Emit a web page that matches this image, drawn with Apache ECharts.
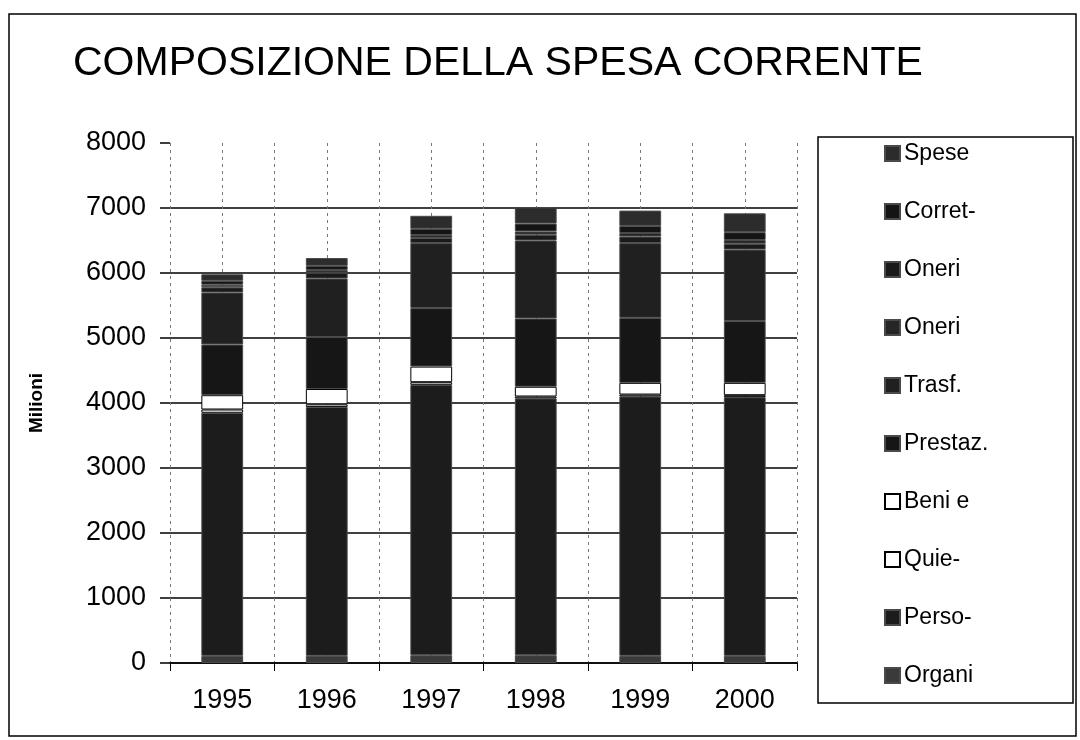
<!DOCTYPE html>
<html>
<head>
<meta charset="utf-8">
<script src="https://cdn.jsdelivr.net/npm/echarts@6/dist/echarts.min.js"></script>
<style>
html,body{margin:0;padding:0;background:#fff;}
#main{width:1080px;height:740px;}
</style>
</head>
<body>
<div id="main"></div>
<script>
// anni
var anni = ['1995', '1996', '1997', '1998', '1999', '2000'];
var yTicks = [0, 1000, 2000, 3000, 4000, 5000, 6000, 7000, 8000];

// valori in milioni, dal basso verso l'alto della pila
var organi  = [110, 110, 120, 120, 110, 110];
var perso   = [3740, 3830, 4160, 3950, 3990, 3980];
var quie    = [50, 40, 40, 30, 30, 30];
var beni    = [220, 235, 240, 150, 180, 190];
var prestaz = [780, 800, 900, 1050, 1000, 950];
var trasf   = [800, 900, 1000, 1200, 1150, 1100];
var oneri1  = [80, 90, 80, 90, 100, 90];
var oneri2  = [40, 40, 45, 50, 55, 58];
var corret  = [60, 65, 95, 120, 110, 120];
var spese   = [100, 120, 200, 250, 235, 290];

var nomiLegenda = ['Spese', 'Corret-', 'Oneri1', 'Oneri2', 'Trasf.', 'Prestaz.', 'Beni e', 'Quie-', 'Perso-', 'Organi'];

function serie(nome, valori, colore, bordo) {
    return {
        name: nome,
        type: 'bar',
        stack: 'spesa',
        barWidth: '40%',
        data: valori,
        itemStyle: {color: colore, borderColor: bordo || '#4a4a4a', borderWidth: 1},
        emphasis: {disabled: true}
    };
}

var myChart = echarts.init(document.getElementById('main'));

// solo la griglia fino a 7000, niente linea a 8000
var coloriGriglia = yTicks.map(function (v) { return v < 8000 ? '#000' : 'rgba(0,0,0,0)'; });

option = {
    backgroundColor: '#fff',
    animation: false,
    textStyle: {fontFamily: 'Liberation Sans, Arial, sans-serif', color: '#000'},
    title: {
        text: 'COMPOSIZIONE DELLA SPESA CORRENTE',
        left: 68,
        top: 38,
        textStyle: {fontSize: 41, fontWeight: 'normal', color: '#000', fontFamily: 'Liberation Sans, Arial, sans-serif'}
    },
    graphic: [
        {type: 'rect', shape: {x: 9, y: 14, width: 1067, height: 722}, style: {fill: 'none', stroke: '#000', lineWidth: 1.5}, silent: true, z: 0},
        {type: 'rect', shape: {x: 818, y: 137, width: 255, height: 566}, style: {fill: '#fff', stroke: '#000', lineWidth: 1.5}, silent: true, z: 0}
    ],
    legend: {
        orient: 'vertical',
        left: 879,
        top: 137,
        icon: 'rect',
        itemWidth: 15,
        itemHeight: 15,
        itemGap: 35,
        data: nomiLegenda,
        formatter: function (n) { return n.replace(/\d$/, ''); },
        textStyle: {fontSize: 23, color: '#000', fontFamily: 'Liberation Sans, Arial, sans-serif', padding: [0, 0, 0, -1]},
        selectedMode: false,
        zlevel: 1
    },
    grid: {left: 170, right: 283, top: 143, bottom: 77, containLabel: false},
    xAxis: [
        {
            type: 'category',
            data: anni,
            axisLine: {show: true, lineStyle: {color: '#000', width: 1.5}},
            axisTick: {show: true, length: 8, lineStyle: {color: '#000'}},
            axisLabel: {fontSize: 27, color: '#000', margin: 24},
            splitLine: {show: false}
        },
        {
            type: 'value',
            min: 0,
            max: 6,
            interval: 0.5,
            show: true,
            position: 'bottom',
            axisLine: {show: false},
            axisTick: {show: false},
            axisLabel: {show: false},
            splitLine: {show: true, lineStyle: {color: '#777', type: [3, 4], width: 1}}
        }
    ],
    yAxis: {
        type: 'value',
        min: 0,
        max: 8000,
        interval: 1000,
        name: 'Milioni',
        nameLocation: 'middle',
        nameRotate: 90,
        nameGap: 124,
        nameTextStyle: {fontSize: 19, fontWeight: 'bold', color: '#000'},
        axisLine: {show: false},
        axisTick: {show: true, inside: false, length: 10, lineStyle: {color: '#000', width: 1.5}},
        axisLabel: {fontSize: 27, color: '#000', margin: 24, formatter: function (v) { return String(v); }},
        splitLine: {show: true, lineStyle: {color: coloriGriglia, width: 1.5}}
    },
    series: [
        serie('Organi', organi, '#3a3a3a'),
        serie('Perso-', perso, '#1c1c1c'),
        serie('Quie-', quie, '#ffffff', '#000'),
        serie('Beni e', beni, '#ffffff', '#000'),
        serie('Prestaz.', prestaz, '#161616'),
        serie('Trasf.', trasf, '#202020'),
        serie('Oneri1', oneri1, '#1a1a1a'),
        serie('Oneri2', oneri2, '#262626'),
        serie('Corret-', corret, '#141414'),
        serie('Spese', spese, '#2c2c2c')
    ]
};
myChart.setOption(option, true);
</script>
</body>
</html>
